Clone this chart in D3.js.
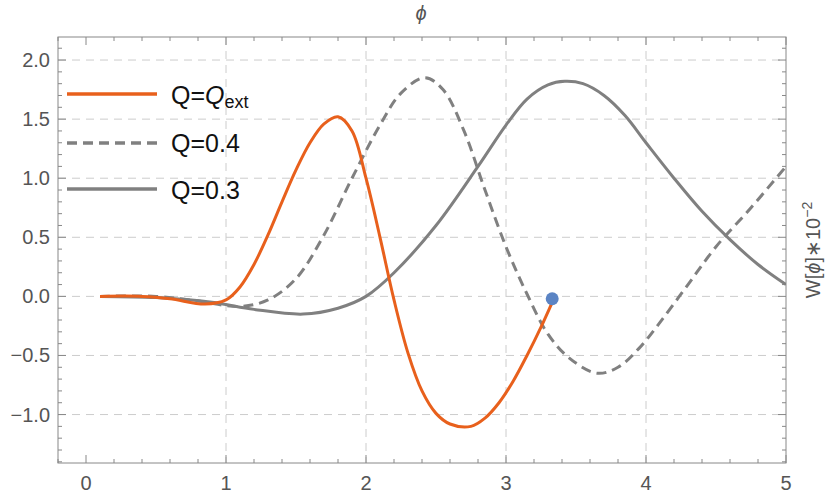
<!DOCTYPE html><html><head><script src="https://cdn.jsdelivr.net/npm/d3@7"></script>
<style>body{margin:0;background:#fff}text{font-family:"Liberation Sans",Arial,sans-serif}</style></head><body><svg id="c" width="830" height="495"></svg><script>
const qExt=[[0.1,0],[0.4,0],[0.6,-0.02],[0.85,-0.065],[1.0,-0.03],[1.1,0.08],[1.2,0.27],[1.3,0.52],[1.4,0.8],[1.5,1.07],[1.6,1.3],[1.7,1.46],[1.8,1.52],[1.9,1.4],[2.0,1.0],[2.1,0.5],[2.2,-0.03],[2.3,-0.48],[2.4,-0.8],[2.5,-0.99],[2.6,-1.08],[2.75,-1.1],[2.85,-1.03],[2.95,-0.9],[3.05,-0.72],[3.15,-0.5],[3.25,-0.26],[3.33,-0.05]];
const q04=[[0.1,0],[0.5,0],[0.8,-0.04],[1.1,-0.085],[1.3,-0.03],[1.5,0.15],[1.7,0.52],[1.9,1.0],[2.1,1.45],[2.25,1.72],[2.42,1.85],[2.55,1.75],[2.7,1.4],[2.85,0.9],[3.0,0.42],[3.15,0.02],[3.3,-0.32],[3.45,-0.52],[3.65,-0.65],[3.8,-0.6],[3.95,-0.44],[4.1,-0.22],[4.3,0.1],[4.5,0.42],[4.75,0.75],[5.0,1.1]];
const q03=[[0.1,0],[0.5,-0.01],[0.9,-0.05],[1.2,-0.11],[1.55,-0.15],[1.8,-0.1],[2.0,0.0],[2.2,0.2],[2.5,0.6],[2.8,1.1],[3.0,1.45],[3.15,1.67],[3.3,1.79],[3.42,1.82],[3.55,1.8],[3.7,1.7],[3.85,1.53],[4.0,1.3],[4.2,1.0],[4.4,0.72],[4.6,0.48],[4.8,0.27],[5.0,0.1]];
const dot=[3.33,-0.02];
const xTicks=[0,1,2,3,4,5], yTicks=[-1,-0.5,0,0.5,1,1.5,2];
const svg=d3.select("#c");
const x=d3.scaleLinear().domain([-0.2,5]).range([58,786]);
const y=d3.scaleLinear().domain([-1.41,2.195]).range([463,37]);
const g=svg.append("g");
xTicks.slice(1,5).forEach(t=>g.append("line").attr("x1",x(t)).attr("x2",x(t)).attr("y1",37).attr("y2",463).attr("stroke","#ccc").attr("stroke-dasharray","8,6"));
yTicks.forEach(t=>g.append("line").attr("x1",58).attr("x2",786).attr("y1",y(t)).attr("y2",y(t)).attr("stroke","#ccc").attr("stroke-dasharray","8,6"));
g.append("rect").attr("x",58).attr("y",37).attr("width",728).attr("height",426).attr("fill","none").attr("stroke","#888");
for(let t=-0.2;t<=5.001;t+=0.2){const maj=Math.abs(t-Math.round(t))<1e-6;const L=maj?8:4;
 g.append("line").attr("x1",x(t)).attr("x2",x(t)).attr("y1",463).attr("y2",463-L).attr("stroke","#888");
 g.append("line").attr("x1",x(t)).attr("x2",x(t)).attr("y1",37).attr("y2",37+L).attr("stroke","#888");}
for(let t=-1.4;t<=2.19;t+=0.1){const maj=Math.abs(t*2-Math.round(t*2))<1e-6;const L=maj?8:4;
 g.append("line").attr("y1",y(t)).attr("y2",y(t)).attr("x1",58).attr("x2",58+L).attr("stroke","#888");
 g.append("line").attr("y1",y(t)).attr("y2",y(t)).attr("x1",786).attr("x2",786-L).attr("stroke","#888");}
xTicks.forEach(t=>g.append("text").attr("x",x(t)).attr("y",490).attr("text-anchor","middle").attr("font-size",20).attr("fill","#555").text(t));
yTicks.forEach(t=>g.append("text").attr("x",50).attr("y",y(t)+7).attr("text-anchor","end").attr("font-size",20).attr("fill","#555").text(t<0?"−"+Math.abs(t).toFixed(1):t.toFixed(1)));
const line=d3.line().x(d=>x(d[0])).y(d=>y(d[1])).curve(d3.curveCatmullRom.alpha(0.5));
svg.append("clipPath").attr("id","cl").append("rect").attr("x",58).attr("y",37).attr("width",728).attr("height",426);
const p=svg.append("g").attr("clip-path","url(#cl)");
p.append("path").attr("d",line(q03)).attr("fill","none").attr("stroke","#808080").attr("stroke-width",3);
p.append("path").attr("d",line(q04)).attr("fill","none").attr("stroke","#808080").attr("stroke-width",3).attr("stroke-dasharray","10,6");
p.append("path").attr("d",line(qExt)).attr("fill","none").attr("stroke","#e8601c").attr("stroke-width",3);
svg.append("circle").attr("cx",x(dot[0])).attr("cy",y(dot[1])).attr("r",6.5).attr("fill","#5b84c4");
const lg=[["#e8601c",null,94],["#808080","10,6",143],["#808080",null,189]];
lg.forEach(l=>svg.append("line").attr("x1",67).attr("x2",157).attr("y1",l[2]).attr("y2",l[2]).attr("stroke",l[0]).attr("stroke-width",3.5).attr("stroke-dasharray",l[1]));
const t1=svg.append("text").attr("x",171).attr("y",104).attr("font-size",25).attr("fill","#111");
t1.append("tspan").text("Q=");t1.append("tspan").attr("font-style","italic").text("Q");t1.append("tspan").attr("font-size",18).attr("dy",4).text("ext");
svg.append("text").attr("x",171).attr("y",152).attr("font-size",25).attr("fill","#111").text("Q=0.4");
svg.append("text").attr("x",171).attr("y",199).attr("font-size",25).attr("fill","#111").text("Q=0.3");
svg.append("text").attr("x",421).attr("y",20).attr("text-anchor","middle").attr("font-size",20).attr("font-style","italic").attr("fill","#555").text("ϕ");
const rl=svg.append("text").attr("transform","translate(820,250) rotate(-90)").attr("text-anchor","middle").attr("font-size",20).attr("fill","#555");
rl.append("tspan").text("W[");rl.append("tspan").attr("font-style","italic").text("ϕ");rl.append("tspan").text("]∗10");rl.append("tspan").attr("font-size",14).attr("dy",-8).text("−2");
</script></body></html>
